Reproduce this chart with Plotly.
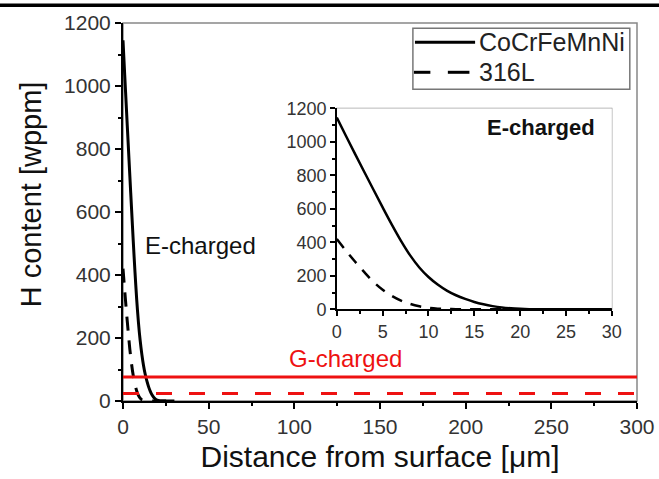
import plotly.graph_objects as go

# ---------------- data ----------------
depth_um = list(range(0, 31))
h_cocrfemnni = [1145, 1035, 927, 820, 714, 609, 506, 409, 322, 250,
                193, 148, 112, 84, 62, 44, 30, 19, 11, 6,
                3, 1, 0, 0, 0, 0, 0, 0, 0, 0, 0]
h_316l = [420, 350, 284, 222, 164, 117, 80, 52, 32, 18,
          9, 4, 2, 1, 0, 0, 0, 0, 0, 0,
          0, 0, 0, 0, 0, 0, 0, 0, 0, 0, 0]
g_span_um = [0, 300]
g_cocrfemnni = [76, 76]
g_316l = [24, 24]

series_names = ["CoCrFeMnNi", "316L"]
main_x_ticks = [0, 50, 100, 150, 200, 250, 300]
main_y_ticks = [0, 200, 400, 600, 800, 1000, 1200]
inset_x_ticks = [0, 5, 10, 15, 20, 25, 30]
inset_y_ticks = [0, 200, 400, 600, 800, 1000, 1200]

FONT = "Liberation Sans, Arial, sans-serif"
TICKC = "#333333"
RED = "#ee1111"

fig = go.Figure()

# main E-charged curves
fig.add_trace(go.Scatter(x=depth_um, y=h_cocrfemnni, mode="lines", name=series_names[0],
                         line=dict(color="black", width=3, shape="spline", smoothing=0.8),
                         xaxis="x", yaxis="y", showlegend=False))
fig.add_trace(go.Scatter(x=depth_um, y=h_316l, mode="lines", name=series_names[1],
                         line=dict(color="black", width=3, dash="14px,10px", shape="spline", smoothing=0.8),
                         xaxis="x", yaxis="y", showlegend=False))
# G-charged levels
fig.add_trace(go.Scatter(x=g_span_um, y=g_cocrfemnni, mode="lines", showlegend=False,
                         line=dict(color=RED, width=3), xaxis="x", yaxis="y"))
fig.add_trace(go.Scatter(x=g_span_um, y=g_316l, mode="lines", showlegend=False,
                         line=dict(color=RED, width=3, dash="16px,17px"),
                         xaxis="x", yaxis="y"))
# inset curves
fig.add_trace(go.Scatter(x=depth_um, y=h_cocrfemnni, mode="lines", showlegend=False,
                         line=dict(color="black", width=2.5, shape="spline", smoothing=1.0),
                         xaxis="x2", yaxis="y2"))
fig.add_trace(go.Scatter(x=depth_um, y=h_316l, mode="lines", showlegend=False,
                         line=dict(color="black", width=2.5, dash="11px,9px", shape="spline", smoothing=1.0),
                         xaxis="x2", yaxis="y2"))

inset_x_dom = [0.416, 0.951]
inset_y_dom = [0.2426, 0.774]

axis_common = dict(showline=True, linecolor="black", showgrid=False, zeroline=False,
                   ticks="outside", tickcolor="black", ticklen=6, tickwidth=1.5,
                   automargin=False)

fig.update_layout(
    width=659, height=479, autosize=False,
    margin=dict(l=123, r=22, t=23, b=78),
    paper_bgcolor="white", plot_bgcolor="white",
    font=dict(family=FONT, color="black"),
    xaxis=dict(range=[0, 300], tickvals=main_x_ticks, linewidth=2,
               tickfont=dict(size=21, color=TICKC),
               minor=dict(dtick=25, ticks="outside", ticklen=3, tickcolor="black"),
               title=dict(text="Distance from surface [\u03bcm]", font=dict(size=30, color="#111"),
                          standoff=9),
               **axis_common),
    yaxis=dict(range=[0, 1200], tickvals=main_y_ticks, linewidth=2,
               tickfont=dict(size=21, color=TICKC),
               minor=dict(dtick=100, ticks="outside", ticklen=3, tickcolor="black"),
               **axis_common),
    xaxis2=dict(domain=inset_x_dom, anchor="y2", range=[0, 30], tickvals=inset_x_ticks,
                linewidth=1.5, tickfont=dict(size=18, color=TICKC),
                minor=dict(dtick=2.5, ticks="outside", ticklen=3, tickcolor="black"),
                **{**axis_common, "ticklen": 5}),
    yaxis2=dict(domain=inset_y_dom, anchor="x2", range=[0, 1200], tickvals=inset_y_ticks,
                linewidth=1.5, tickfont=dict(size=18, color=TICKC),
                minor=dict(dtick=100, ticks="outside", ticklen=3, tickcolor="black"),
                **{**axis_common, "ticklen": 5}),
    showlegend=False,
)

# y-axis title placed as rotated text
fig.add_annotation(x=(31 - 123) / 514, y=(400.7 - 194) / 378, xref="paper", yref="paper",
                   text="H content [wppm]", textangle=-90, showarrow=False,
                   xanchor="center", yanchor="middle", font=dict(size=29, color="#111"))

# frame lines (gray top/right), top page rule
fig.add_shape(type="rect", xref="paper", yref="paper", x0=0, x1=1, y0=0, y1=1,
              line=dict(color="#888", width=1.5), layer="below")
fig.add_shape(type="rect", xref="paper", yref="paper",
              x0=inset_x_dom[0], x1=inset_x_dom[1], y0=inset_y_dom[0], y1=inset_y_dom[1],
              line=dict(color="#999", width=1.2), layer="below")
fig.add_shape(type="line", xref="paper", yref="paper", x0=-0.3, x1=1.1, y0=1.047, y1=1.047,
              line=dict(color="black", width=3.5))

# legend box (drawn in paper space)
fig.add_shape(type="rect", xref="paper", yref="paper", x0=0.564, x1=0.986, y0=0.8246, y1=0.986,
              line=dict(color="#777", width=1.5), fillcolor="white")
fig.add_shape(type="line", xref="paper", yref="paper", x0=0.568, x1=0.685, y0=0.949, y1=0.949,
              line=dict(color="black", width=3))
fig.add_shape(type="line", xref="paper", yref="paper", x0=0.566, x1=0.598, y0=0.8696, y1=0.8696,
              line=dict(color="black", width=3))
fig.add_shape(type="line", xref="paper", yref="paper", x0=0.632, x1=0.674, y0=0.8696, y1=0.8696,
              line=dict(color="black", width=3))
fig.add_annotation(x=0.689, y=0.949, xref="paper", yref="paper", xanchor="left", yanchor="middle",
                   text=series_names[0], showarrow=False, font=dict(size=25, color="#222"))
fig.add_annotation(x=0.689, y=0.8696, xref="paper", yref="paper", xanchor="left", yanchor="middle",
                   text=series_names[1], showarrow=False, font=dict(size=25, color="#222"))

fig.add_annotation(x=45, y=494, xref="x", yref="y", text="E-charged", showarrow=False,
                   font=dict(size=24, color="#111"))
fig.add_annotation(x=130, y=136, xref="x", yref="y", text="G-charged", showarrow=False,
                   font=dict(size=24, color=RED))
fig.add_annotation(x=(541 - 123) / 514, y=(400.7 - 127) / 378, xref="paper", yref="paper",
                   xanchor="center", yanchor="middle", text="<b>E-charged</b>",
                   showarrow=False, font=dict(size=22, color="#111"))

post = ("document.body.style.margin='0';document.body.style.overflow='hidden';"
        "var gd=document.getElementById('{plot_id}');"
        "Plotly.relayout(gd,{width:659,height:479});")
fig.write_html("out.html", post_script=post, config={"displayModeBar": False})
